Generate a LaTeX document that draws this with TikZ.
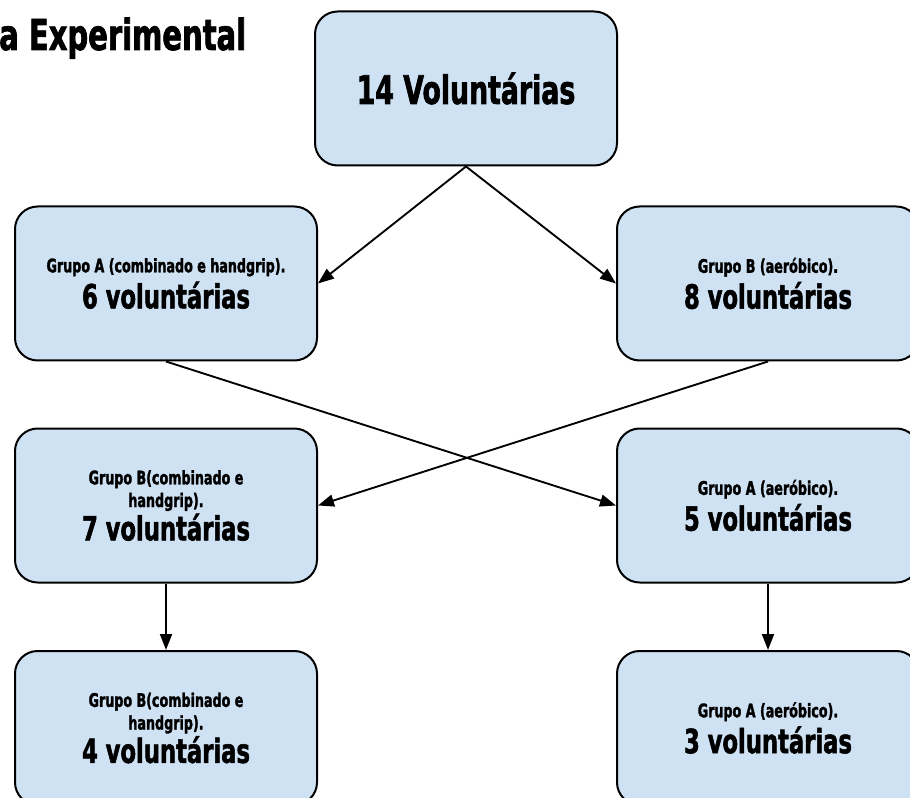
\documentclass[tikz,border=0pt]{standalone}
\usepackage{fontspec}
\setmainfont{DejaVu Sans}[FakeStretch=0.68, BoldFeatures={FakeBold=1.6}]
\usepackage{tikz}
\usetikzlibrary{arrows.meta}
\definecolor{paleblue}{HTML}{CFE2F3}
\newcommand{\ttlfont}{\fontsize{32}{34}\selectfont\bfseries}
\newcommand{\totfont}{\fontsize{29.5}{32}\selectfont\bfseries}
\newcommand{\grpfont}{\fontsize{14}{17}\selectfont\bfseries}
\newcommand{\cntfont}{\fontsize{25}{28}\selectfont\bfseries}

\begin{document}
\begin{tikzpicture}[
    x=0.75pt, y=-0.75pt,
    box/.style={rectangle, draw=black, line width=1.5pt, fill=paleblue,
                rounded corners=17pt, minimum width=226.5pt,
                minimum height=115.5pt, align=center, font=\grpfont},
    link/.style={-{Triangle[length=12pt, width=9pt]}, line width=1.4pt}
]
  \useasboundingbox (0,0) rectangle (910,798);
  \clip (0,0) rectangle (910,798);

  % Title (cut at the left edge)
  \node[anchor=base west, font=\ttlfont, inner sep=0pt] (title) at (-1,50) {a Experimental};

  % Boxes at explicit coordinates
  \node[box, font=\totfont] (total) at (466, 88.5) {14 Voluntárias};

  \node[box] (grpA) at (166, 283.5) {%
    Grupo A (combinado e handgrip).\\[3pt]
    {\cntfont 6 voluntárias}};
  \node[box] (grpB) at (768, 283.5) {%
    Grupo B (aeróbico).\\[3pt]
    {\cntfont 8 voluntárias}};

  \node[box] (midB) at (166, 505.5) {%
    Grupo B(combinado e\\
    handgrip).\\[1pt]
    {\cntfont 7 voluntárias}};
  \node[box] (midA) at (768, 505.5) {%
    Grupo A (aeróbico).\\[3pt]
    {\cntfont 5 voluntárias}};

  \node[box] (endB) at (166, 728) {%
    Grupo B(combinado e\\
    handgrip).\\[1pt]
    {\cntfont 4 voluntárias}};
  \node[box] (endA) at (768, 728) {%
    Grupo A (aeróbico).\\[3pt]
    {\cntfont 3 voluntárias}};

  % Split and cross-over arrows
  \draw[link] (total.south) -- (grpA.east);
  \draw[link] (total.south) -- (grpB.west);
  \draw[link] (grpA.south) -- (midA.west);
  \draw[link] (grpB.south) -- (midB.east);
  \draw[link] (midB) -- (endB);
  \draw[link] (midA) -- (endA);
\end{tikzpicture}
\end{document}
